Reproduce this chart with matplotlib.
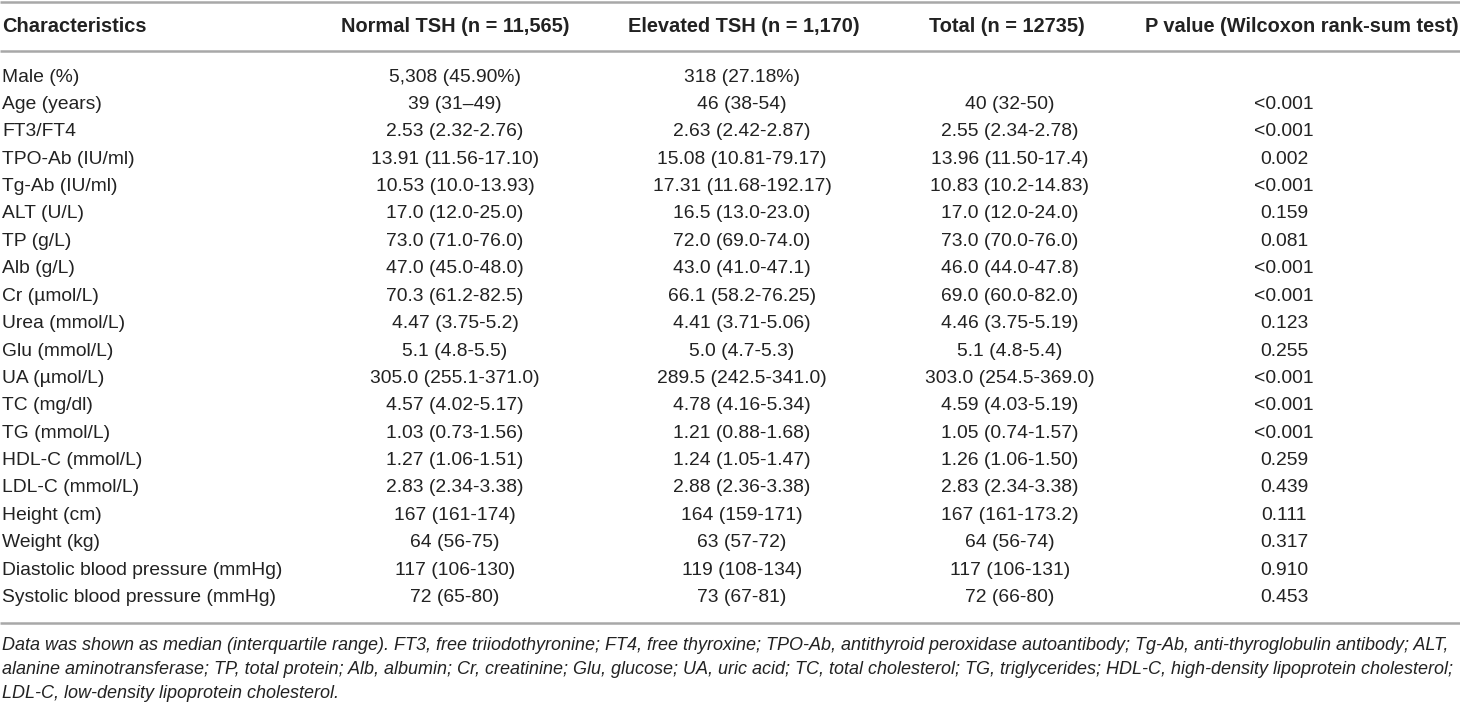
import matplotlib.pyplot as plt

plt.rcParams['font.family'] = ['Liberation Sans', 'DejaVu Sans']

headers = ["Characteristics", "Normal TSH (n = 11,565)", "Elevated TSH (n = 1,170)",
           "Total (n = 12735)", "P value (Wilcoxon rank-sum test)"]

characteristics = [
    "Male (%)", "Age (years)", "FT3/FT4", "TPO-Ab (IU/ml)", "Tg-Ab (IU/ml)",
    "ALT (U/L)", "TP (g/L)", "Alb (g/L)", "Cr (µmol/L)", "Urea (mmol/L)",
    "Glu (mmol/L)", "UA (µmol/L)", "TC (mg/dl)", "TG (mmol/L)", "HDL-C (mmol/L)",
    "LDL-C (mmol/L)", "Height (cm)", "Weight (kg)",
    "Diastolic blood pressure (mmHg)", "Systolic blood pressure (mmHg)",
]
normal_tsh = [
    "5,308 (45.90%)", "39 (31\u201349)", "2.53 (2.32-2.76)", "13.91 (11.56-17.10)",
    "10.53 (10.0-13.93)", "17.0 (12.0-25.0)", "73.0 (71.0-76.0)", "47.0 (45.0-48.0)",
    "70.3 (61.2-82.5)", "4.47 (3.75-5.2)", "5.1 (4.8-5.5)", "305.0 (255.1-371.0)",
    "4.57 (4.02-5.17)", "1.03 (0.73-1.56)", "1.27 (1.06-1.51)", "2.83 (2.34-3.38)",
    "167 (161-174)", "64 (56-75)", "117 (106-130)", "72 (65-80)",
]
elevated_tsh = [
    "318 (27.18%)", "46 (38-54)", "2.63 (2.42-2.87)", "15.08 (10.81-79.17)",
    "17.31 (11.68-192.17)", "16.5 (13.0-23.0)", "72.0 (69.0-74.0)", "43.0 (41.0-47.1)",
    "66.1 (58.2-76.25)", "4.41 (3.71-5.06)", "5.0 (4.7-5.3)", "289.5 (242.5-341.0)",
    "4.78 (4.16-5.34)", "1.21 (0.88-1.68)", "1.24 (1.05-1.47)", "2.88 (2.36-3.38)",
    "164 (159-171)", "63 (57-72)", "119 (108-134)", "73 (67-81)",
]
total = [
    "", "40 (32-50)", "2.55 (2.34-2.78)", "13.96 (11.50-17.4)",
    "10.83 (10.2-14.83)", "17.0 (12.0-24.0)", "73.0 (70.0-76.0)", "46.0 (44.0-47.8)",
    "69.0 (60.0-82.0)", "4.46 (3.75-5.19)", "5.1 (4.8-5.4)", "303.0 (254.5-369.0)",
    "4.59 (4.03-5.19)", "1.05 (0.74-1.57)", "1.26 (1.06-1.50)", "2.83 (2.34-3.38)",
    "167 (161-173.2)", "64 (56-74)", "117 (106-131)", "72 (66-80)",
]
p_values = [
    "", "<0.001", "<0.001", "0.002", "<0.001", "0.159", "0.081", "<0.001", "<0.001",
    "0.123", "0.255", "<0.001", "<0.001", "<0.001", "0.259", "0.439", "0.111",
    "0.317", "0.910", "0.453",
]
footnote = [
    "Data was shown as median (interquartile range). FT3, free triiodothyronine; FT4, free thyroxine; "
    "TPO-Ab, antithyroid peroxidase autoantibody; Tg-Ab, anti-thyroglobulin antibody; ALT,",
    "alanine aminotransferase; TP, total protein; Alb, albumin; Cr, creatinine; Glu, glucose; UA, uric acid; "
    "TC, total cholesterol; TG, triglycerides; HDL-C, high-density lipoprotein cholesterol;",
    "LDL-C, low-density lipoprotein cholesterol.",
]

W, H = 1460, 705
fig = plt.figure(figsize=(W / 100, H / 100), dpi=100)
ax = fig.add_axes([0, 0, 1, 1])
ax.set_xlim(0, W)
ax.set_ylim(H, 0)
ax.axis('off')

fs_head = 14.4
fs_body = 13.9
fs_note = 13.0
txt = '#222222'
line_c = '#a8a8a8'

col_x = [2, 455, 742, 1010, 1284]
head_x = [2, 455, 744, 1007, 1302]

# rules
for y in (1.5, 51, 623):
    ax.plot([0, W], [y, y], color=line_c, lw=1.8, solid_capstyle='butt')

# header
for i, h in enumerate(headers):
    ax.text(head_x[i], 27, h, ha='left' if i == 0 else 'center', va='center',
            fontsize=fs_head, fontweight='bold', color=txt)

# body
row_y0, row_dy = 77, 27.4
cols = [characteristics, normal_tsh, elevated_tsh, total, p_values]
for r in range(len(characteristics)):
    y = row_y0 + r * row_dy
    for c, values in enumerate(cols):
        ax.text(col_x[c], y, values[r], ha='left' if c == 0 else 'center',
                va='center', fontsize=fs_body, color=txt)

# footnote
for k, line in enumerate(footnote):
    ax.text(2, 645 + k * 24, line, ha='left', va='center', fontsize=fs_note,
            style='italic', color=txt)

fig.savefig('out.png', dpi=100)
